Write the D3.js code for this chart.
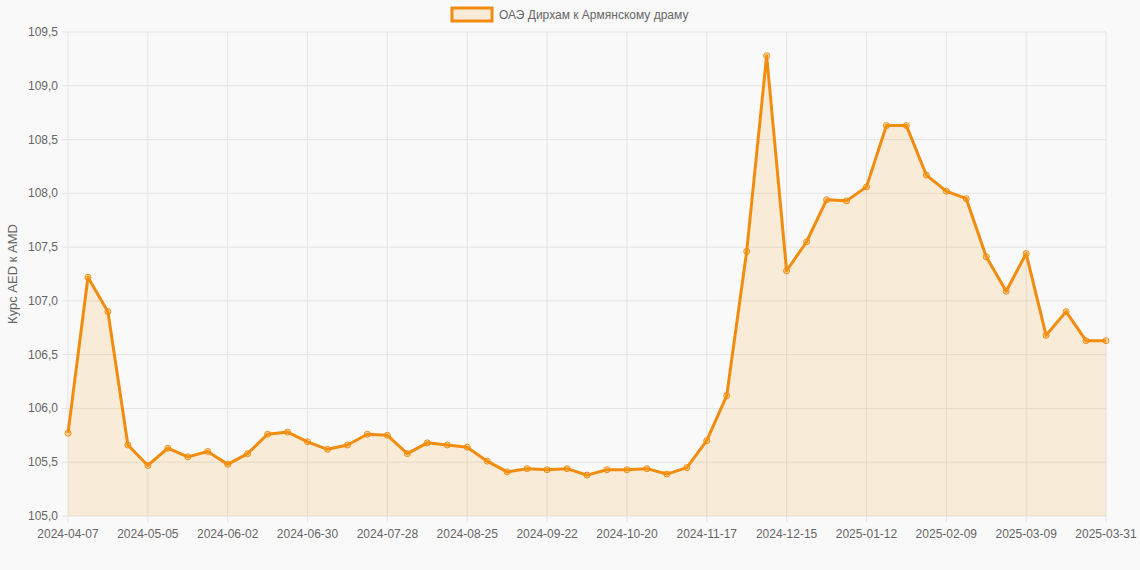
<!DOCTYPE html>
<html><head><meta charset="utf-8">
<script src="https://cdn.jsdelivr.net/npm/d3@7"></script>
<style>body{margin:0;background:#f9f9f9;}svg{display:block;font-family:"Liberation Sans",Arial,sans-serif;}</style>
</head><body><svg id="c" width="1140" height="570"></svg>
<script>
const values=[105.77,107.22,106.90,105.66,105.47,105.63,105.55,105.60,105.48,105.58,105.76,105.78,105.69,105.62,105.66,105.76,105.75,105.58,105.68,105.66,105.64,105.51,105.41,105.44,105.43,105.44,105.38,105.43,105.43,105.44,105.39,105.45,105.70,106.12,107.46,109.28,107.28,107.55,107.94,107.93,108.06,108.63,108.63,108.17,108.02,107.95,107.41,107.09,107.44,106.68,106.90,106.63,106.63];
const fmt=d3.timeFormat("%Y-%m-%d");
const dates=values.map((v,i)=>i<52?fmt(d3.timeDay.offset(new Date(2024,3,7),7*i)):"2025-03-31");
const yTicks=[105,105.5,106,106.5,107,107.5,108,108.5,109,109.5];
const seriesName="ОАЭ Дирхам к Армянскому драму";
const yTitle="Курс AED к AMD";

const svg=d3.select("#c");
const L=68,R=1106,T=32,B=516;
const x=d3.scalePoint().domain(dates).range([L,R]);
const y=d3.scaleLinear().domain([105,109.5]).range([B,T]);
const labelIdx=d3.range(0,53,4);
const g=svg.append("g");
g.selectAll(".vg").data(labelIdx).join("line").attr("x1",i=>x(dates[i])).attr("x2",i=>x(dates[i])).attr("y1",T).attr("y2",B+6).attr("stroke","#e4e4e4");
g.selectAll(".hg").data(yTicks).join("line").attr("x1",L-6).attr("x2",R).attr("y1",d=>y(d)).attr("y2",d=>y(d)).attr("stroke","#e4e4e4");
const fill=d3.area().x((d,i)=>x(dates[i])).y0(B).y1(d=>y(d));
const line=d3.line().x((d,i)=>x(dates[i])).y(d=>y(d));
g.append("path").datum(values).attr("d",fill).attr("fill","rgba(243,156,18,0.15)");
g.append("path").datum(values).attr("d",line).attr("fill","none").attr("stroke","#f28c0f").attr("stroke-width",3).attr("stroke-linejoin","round");
g.selectAll("circle").data(values).join("circle").attr("cx",(d,i)=>x(dates[i])).attr("cy",d=>y(d)).attr("r",3).attr("fill","rgba(243,156,18,0.3)").attr("stroke","#f28c0f").attr("stroke-width",1);
g.selectAll(".xl").data(labelIdx).join("text").attr("x",i=>x(dates[i])).attr("y",B+22).attr("text-anchor","middle").attr("font-size",12).attr("fill","#666").text(i=>dates[i]);
g.selectAll(".yl").data(yTicks).join("text").attr("x",L-10).attr("y",d=>y(d)+4).attr("text-anchor","end").attr("font-size",12).attr("fill","#666").text(d=>d.toFixed(1).replace(".",","));
svg.append("text").attr("transform",`translate(17,${(T+B)/2}) rotate(-90)`).attr("text-anchor","middle").attr("font-size",13).attr("fill","#666").text(yTitle);
svg.append("rect").attr("x",452).attr("y",8).attr("width",40).attr("height",13).attr("fill","rgba(243,156,18,0.15)").attr("stroke","#f28c0f").attr("stroke-width",3);
svg.append("text").attr("x",499).attr("y",19).attr("font-size",12).attr("fill","#666").text(seriesName);
</script></body></html>
